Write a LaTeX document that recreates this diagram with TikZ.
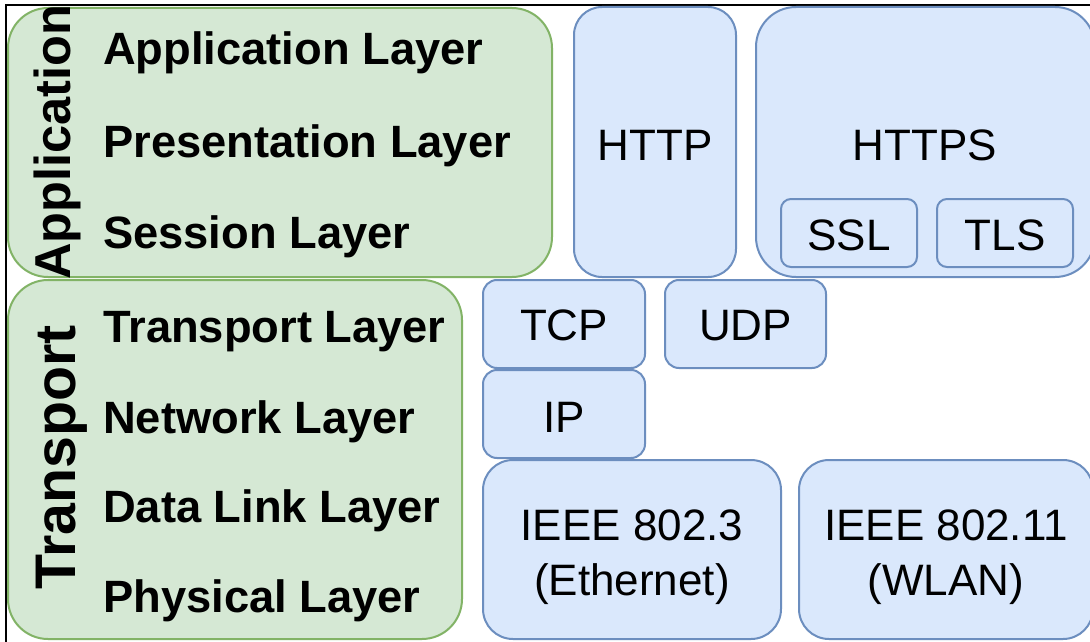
\documentclass[tikz,border=0pt]{standalone}
\usepackage{fontspec}
\setmainfont{Liberation Sans}
\definecolor{gfill}{HTML}{D5E8D4}
\definecolor{gline}{HTML}{82B366}
\definecolor{bfill}{HTML}{DAE8FC}
\definecolor{bline}{HTML}{6C8EBF}
\begin{document}
\begin{tikzpicture}[x=1pt,y=-1pt,
  gbox/.style={draw=gline, fill=gfill, line width=2pt, rounded corners=40pt, inner sep=0pt},
  bbox/.style={draw=bline, fill=bfill, line width=2pt, inner sep=0pt},
  lay/.style={font=\fontsize{45.3}{50}\selectfont\bfseries, anchor=base west, inner sep=0pt},
  vlab/.style={rotate=90, anchor=base, inner sep=0pt},
  lbl/.style={font=\fontsize{44}{55}\selectfont, inner sep=0pt, anchor=base},
  two/.style={font=\fontsize{44}{55}\selectfont, inner sep=0pt, align=center}
]
\useasboundingbox (0,0) rectangle (1090,642);
\clip (0,0) rectangle (1090,642);
\fill[white] (0,0) rectangle (1090,642);
% frame
\draw[line width=2pt] (6,650) -- (6,5) -- (1100,5);
% green groups
\node[gbox, minimum width=544pt, minimum height=269pt] (app) at (280,142.5) {};
\node[gbox, minimum width=454pt, minimum height=359pt] (trans) at (235,459.5) {};
% blue boxes
\node[bbox, rounded corners=28pt, minimum width=162pt, minimum height=270pt] (http) at (655,142) {};
\node[bbox, rounded corners=40pt, minimum width=339pt, minimum height=270pt] (https) at (925.5,142) {};
\node[bbox, rounded corners=10pt, minimum width=136pt, minimum height=68pt] (ssl) at (849,233) {};
\node[bbox, rounded corners=10pt, minimum width=136pt, minimum height=68pt] (tls) at (1005,233) {};
\node[bbox, rounded corners=14pt, minimum width=162pt, minimum height=88pt] (tcp) at (564,324) {};
\node[bbox, rounded corners=14pt, minimum width=161pt, minimum height=88pt] (udp) at (745.5,324) {};
\node[bbox, rounded corners=14pt, minimum width=162pt, minimum height=88pt] (ip) at (564,414) {};
\node[bbox, rounded corners=30pt, minimum width=298pt, minimum height=179pt] (eth) at (632,549.5) {};
\node[bbox, rounded corners=30pt, minimum width=294pt, minimum height=179pt] (wlan) at (946,549.5) {};
% vertical group labels
\node[vlab, font=\fontsize{50.5}{55}\selectfont\bfseries] (appv) at (70,142) {Application};
\node[vlab, font=\fontsize{57.3}{60}\selectfont\bfseries] (transv) at (75,457.5) {Transport};
% layer names
\node[lay] (l7) at (103,65) {Application Layer};
\node[lay] (l6) at (103,157) {Presentation Layer};
\node[lay] (l5) at (103,248) {Session Layer};
\node[lay] (l4) at (103,342) {Transport Layer};
\node[lay] (l3) at (103,433) {Network Layer};
\node[lay] (l2) at (103,522) {Data Link Layer};
\node[lay] (l1) at (103,612) {Physical Layer};
% protocol labels
\node[lbl] (thttp) at (655,160) {HTTP};
\node[lbl] (thttps) at (925,160) {HTTPS};
\node[lbl] (tssl) at (849,250) {SSL};
\node[lbl] (ttls) at (1005,250) {TLS};
\node[lbl] (ttcp) at (564,340) {TCP};
\node[lbl] (tudp) at (745.5,340) {UDP};
\node[lbl] (tip) at (564,432) {IP};
\node[two] (teth) at (632,557) {IEEE 802.3\\(Ethernet)};
\node[two] (twlan) at (946,557) {IEEE 802.11\\(WLAN)};
\end{tikzpicture}
\end{document}
